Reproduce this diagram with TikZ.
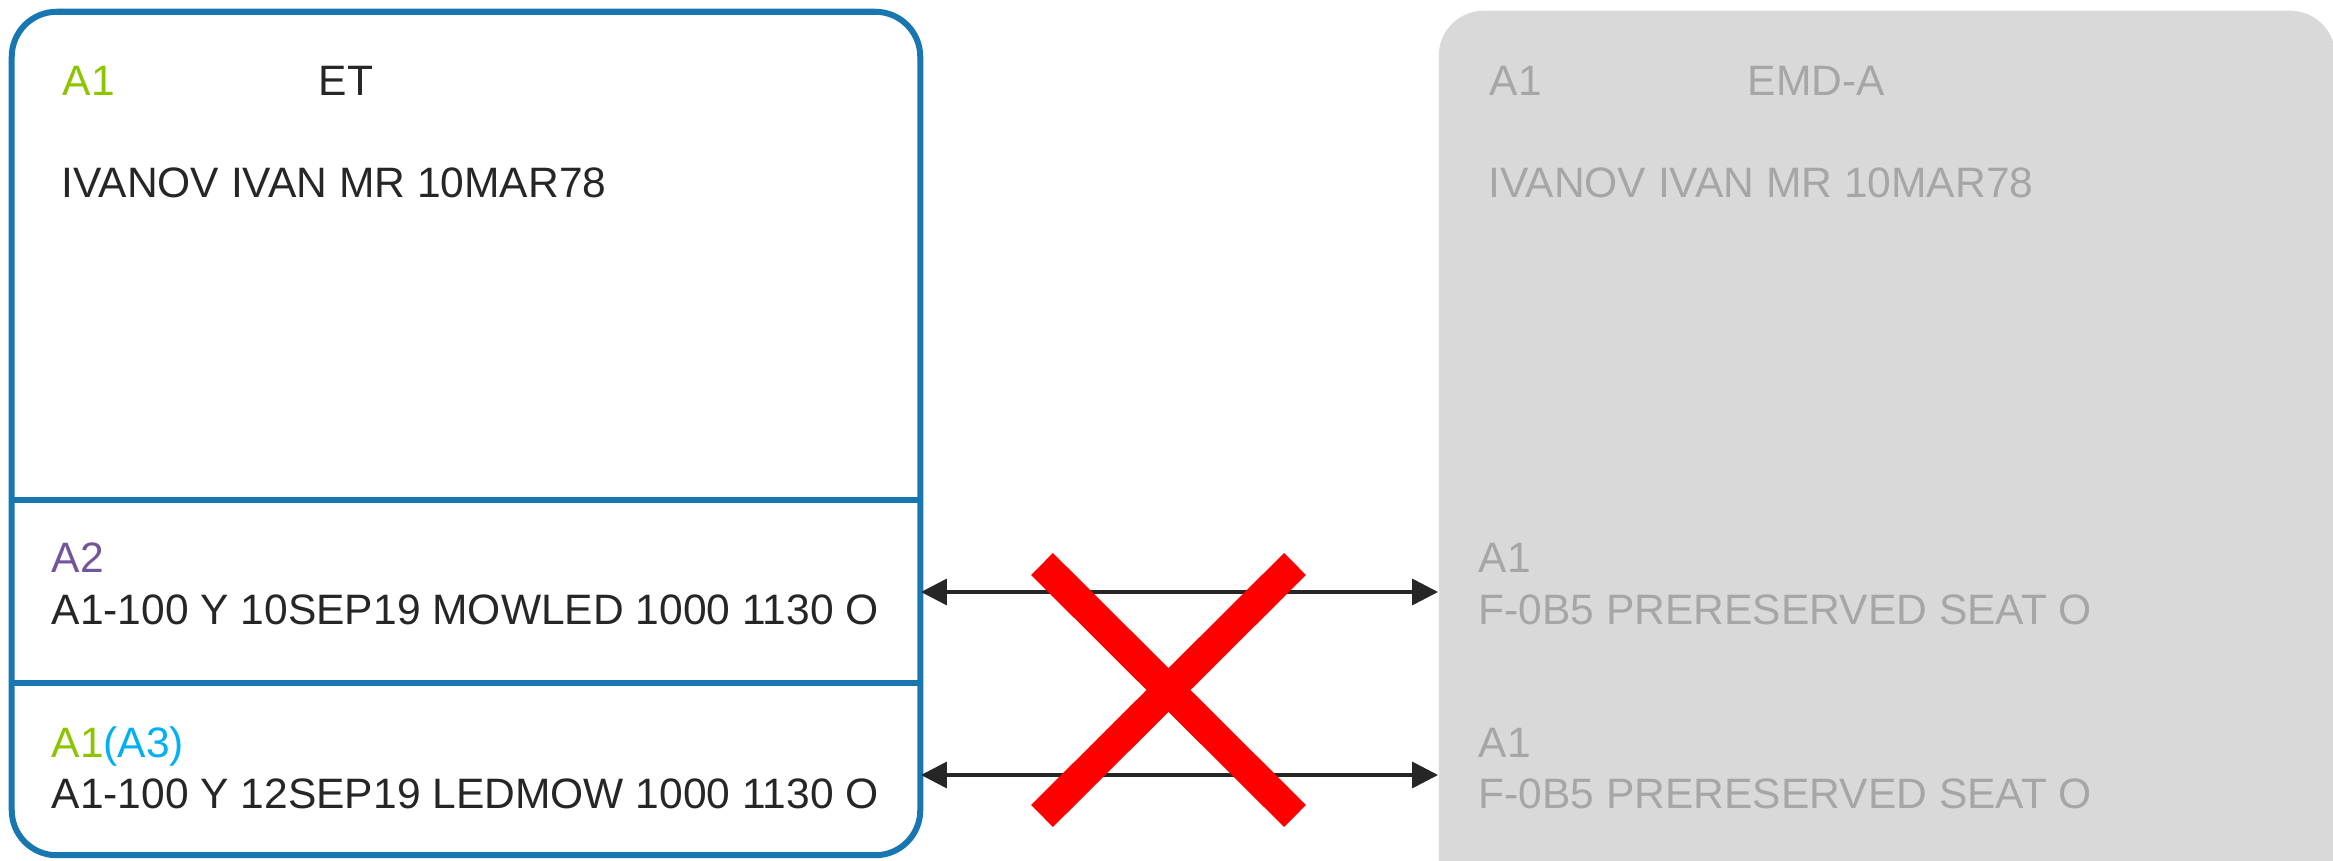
\documentclass[tikz,border=0pt]{standalone}
\usepackage{fontspec}
\setmainfont{Liberation Sans}
\usetikzlibrary{arrows.meta}
\definecolor{boxblue}{RGB}{24,119,176}
\definecolor{tgreen}{RGB}{140,196,0}
\definecolor{tpurple}{RGB}{115,85,155}
\definecolor{tcyan}{RGB}{0,176,240}
\definecolor{tdark}{RGB}{38,38,38}
\definecolor{gfill}{RGB}{217,217,217}
\definecolor{gtext}{RGB}{166,166,166}
\begin{document}
\begin{tikzpicture}[x=0.01cm,y=-0.01cm,
  txt/.style={anchor=base west, inner sep=0pt, font=\fontsize{12.1pt}{14pt}\selectfont, text=tdark},
  gtxt/.style={txt, text=gtext},
  etbox/.style={draw=boxblue, line width=0.06cm, rounded corners=0.45cm, inner sep=0pt, minimum width=9.08cm, minimum height=8.43cm},
  emdbox/.style={fill=gfill, rounded corners=0.45cm, inner sep=0pt, minimum width=8.96cm, minimum height=9.5cm},
  divider/.style={draw=boxblue, line width=0.06cm},
  segL/.style={inner sep=0pt, minimum width=9.08cm, minimum height=1.4cm},
  segR/.style={inner sep=0pt, minimum width=8.96cm, minimum height=1.4cm},
  conn/.style={draw=tdark, line width=0.035cm, {Triangle[length=0.26cm,width=0.26cm]}-{Triangle[length=0.26cm,width=0.26cm]}},
  redx/.style={draw=red, line width=0.31cm, line cap=butt}
]
\useasboundingbox (0,0) rectangle (2333,861);
% boxes
\node[emdbox] (emd) at (1887,486) {};
\node[etbox] (et) at (466,433.5) {};
\draw[divider] (et.west |- 0,500) -- (et.east |- 0,500);
\draw[divider] (et.west |- 0,683) -- (et.east |- 0,683);
% segment anchors
\node[segL] (l2) at (466,592) {};
\node[segL] (l3) at (466,775) {};
\node[segR] (r2) at (1887,592) {};
\node[segR] (r3) at (1887,775) {};
% left texts
\node[txt, text=tgreen] (lh1) at (62,96) {A1};
\node[txt] (lh2) at (318,96) {ET};
\node[txt] (lnm) at (61,198) {IVANOV IVAN MR 10MAR78};
\node[txt, text=tpurple] (la2) at (51,573) {A2};
\node[txt] (lf1) at (51,624) {A1-100 Y 10SEP19 MOWLED 1000 1130 O};
\node[txt] (la3) at (51,757) {\textcolor{tgreen}{A1}\textcolor{tcyan}{(A3)}};
\node[txt] (lf2) at (51,808) {A1-100 Y 12SEP19 LEDMOW 1000 1130 O};
% right texts
\node[gtxt] (rh1) at (1489,96) {A1};
\node[gtxt] (rh2) at (1747,96) {EMD-A};
\node[gtxt] (rnm) at (1488,198) {IVANOV IVAN MR 10MAR78};
\node[gtxt] (ra2) at (1478,573) {A1};
\node[gtxt] (rf1) at (1478,624) {F-0B5 PRERESERVED SEAT O};
\node[gtxt] (ra3) at (1478,757) {A1};
\node[gtxt] (rf2) at (1478,808) {F-0B5 PRERESERVED SEAT O};
% connectors
\draw[conn] (l2.east) -- (r2.west);
\draw[conn] (l3.east) -- (r3.west);
% red cross
\draw[redx] (1042,564) -- (1295,816);
\draw[redx] (1295,564) -- (1042,816);
\end{tikzpicture}
\end{document}
